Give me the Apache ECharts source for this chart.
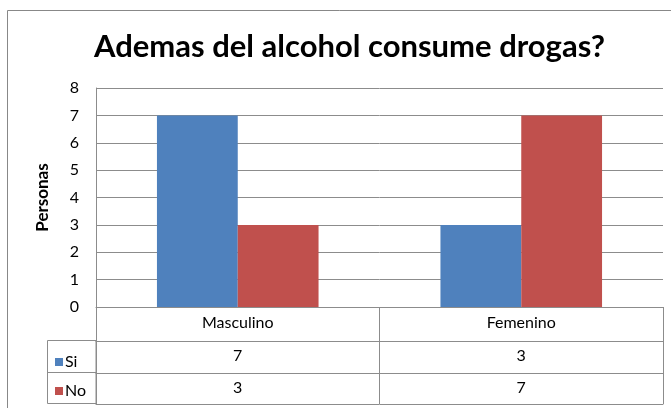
<!DOCTYPE html>
<html>
<head>
<meta charset="utf-8">
<script src="https://cdn.jsdelivr.net/npm/echarts@6/dist/echarts.min.js"></script>
<style>
  html, body { margin: 0; padding: 0; background: #fff; }
  #chart { width: 671px; height: 408px; }
</style>
</head>
<body>
<div id="chart"></div>
<script>
const categories = ['Masculino', 'Femenino'];
const seriesNames = ['Si', 'No'];
const siValues = [7, 3];
const noValues = [3, 7];
const yTicks = [0, 1, 2, 3, 4, 5, 6, 7, 8];

const FONT = 'Lato';
const lineColor = '#8c8c8c';

// una fila de la tabla de datos = un eje de categorías desplazado hacia abajo
function tableAxis(offset, tickLen, labels, margin) {
  return {
    type: 'category',
    data: categories,
    position: 'bottom',
    offset: offset,
    axisLine: { show: true, lineStyle: { color: lineColor, width: 1 } },
    axisTick: { show: tickLen > 0, length: tickLen, lineStyle: { color: lineColor } },
    axisLabel: {
      show: !!labels,
      margin: margin,
      fontFamily: FONT,
      fontSize: 16,
      color: '#000',
      formatter: (v, i) => labels ? String(labels[i]) : ''
    },
    splitLine: { show: false }
  };
}

const chart = echarts.init(document.getElementById('chart'));
chart.setOption({
  animation: false,
  backgroundColor: '#fff',
  title: {
    text: 'Ademas del alcohol consume drogas?',
    left: 89,
    top: 26,
    textStyle: { fontFamily: FONT, fontWeight: 'bold', fontSize: 31, color: '#000' }
  },
  legend: {
    orient: 'vertical',
    left: 50,
    top: 349,
    itemWidth: 8,
    itemHeight: 8,
    itemGap: 13,
    icon: 'rect',
    data: seriesNames,
    textStyle: { fontFamily: FONT, fontSize: 16, color: '#000', padding: [0, 0, 0, -3] }
  },
  grid: { left: 96, right: 8, top: 88, bottom: 101 },
  xAxis: [
    tableAxis(0, 34, categories, 8),
    tableAxis(34, 32, siValues, 7),
    tableAxis(66, 31, noValues, 7),
    tableAxis(97, 0, null, 8)
  ],
  yAxis: {
    type: 'value',
    min: yTicks[0],
    max: yTicks[yTicks.length - 1],
    interval: 1,
    name: 'Personas',
    nameLocation: 'middle',
    nameRotate: 90,
    nameGap: 45,
    nameTextStyle: { fontFamily: FONT, fontWeight: 'bold', fontSize: 17, color: '#000' },
    axisLine: { show: true, lineStyle: { color: lineColor } },
    axisTick: { show: false },
    axisLabel: { fontFamily: FONT, fontSize: 16, color: '#000', margin: 17 },
    splitLine: { lineStyle: { color: lineColor } }
  },
  series: [
    {
      name: seriesNames[0],
      type: 'bar',
      data: siValues,
      barGap: '0%',
      barCategoryGap: '43%',
      itemStyle: { color: '#4F81BD' }
    },
    {
      name: seriesNames[1],
      type: 'bar',
      data: noValues,
      itemStyle: { color: '#C0504D' }
    }
  ],
  graphic: [
    // marco exterior del gráfico
    {
      type: 'rect',
      shape: { x: 7.5, y: 10.5, width: 700, height: 450 },
      style: { fill: 'none', stroke: '#888', lineWidth: 1 },
      silent: true
    },
    // columna de leyenda de la tabla
    {
      type: 'rect',
      shape: { x: 47.5, y: 340.5, width: 48.5, height: 63 },
      style: { fill: 'none', stroke: lineColor, lineWidth: 1 },
      silent: true
    },
    {
      type: 'line',
      shape: { x1: 47.5, y1: 372.5, x2: 96, y2: 372.5 },
      style: { stroke: lineColor, lineWidth: 1 },
      silent: true
    }
  ]
});
</script>
</body>
</html>
